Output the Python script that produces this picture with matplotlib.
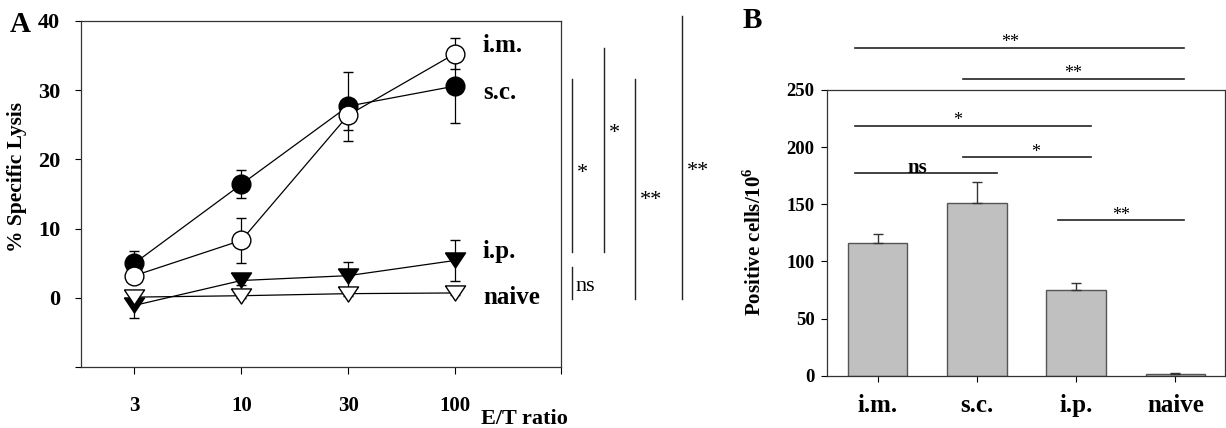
import numpy as np
import matplotlib
matplotlib.use('Agg')
import matplotlib.pyplot as plt

plt.rcParams['font.family'] = ['Liberation Serif', 'DejaVu Serif']
plt.rcParams['mathtext.fontset'] = 'custom'
plt.rcParams['mathtext.rm'] = 'Liberation Serif'
plt.rcParams['mathtext.bf'] = 'Liberation Serif:bold'

# panel A data: % specific lysis vs E/T ratio
et_ratio = ['3', '10', '30', '100']
im_lysis = [3.2, 8.3, 26.4, 35.3]
im_err = [0.4, 3.3, 2.2, 2.2]
sc_lysis = [5.0, 16.4, 27.7, 30.6]
sc_err = [1.7, 2.0, 5.0, 5.4]
ip_lysis = [-1.1, 2.5, 3.2, 5.4]
ip_err = [1.8, 0.6, 2.0, 3.0]
naive_lysis = [0.1, 0.3, 0.6, 0.7]
naive_err = [0.2, 0.3, 0.3, 0.3]

# panel B data: positive cells per 10^6
routes = ['i.m.', 's.c.', 'i.p.', 'naive']
cells = [116.5, 151.0, 75.0, 1.5]
cells_err = [7.8, 18.6, 6.5, 1.2]

# significance marks, panel A (vertical lines, y range in % lysis)
a_sig_x = [4.09, 4.09, 4.39, 4.68, 5.12]
a_sig_y0 = [6.6, -0.2, 6.6, -0.2, -0.2]
a_sig_y1 = [31.6, 4.4, 36.1, 31.6, 40.7]
a_sig_txt = ['*', 'ns', '*', '**', '**']
a_sig_tx = [4.19, 4.13, 4.49, 4.83, 5.27]
a_sig_ty = [19.1, 2.2, 24.9, 15.1, 19.4]

# significance marks, panel B (horizontal lines)
b_sig_x0 = [-0.23, 0.86, -0.23, 0.86, -0.23, 1.82]
b_sig_x1 = [3.09, 3.09, 2.15, 2.15, 1.20, 3.09]
b_sig_y = [287, 260, 218.5, 191, 177.5, 136]
b_sig_txt = ['**', '**', '*', '*', 'ns', '**']
b_sig_tx = [1.34, 1.97, 0.81, 1.59, 0.40, 2.45]

# wide, flat down-pointing triangle like the original figure
tri = [(-1, 0.75), (1, 0.75), (0, -0.75), (-1, 0.75)]

fig = plt.figure(figsize=(12.26, 4.28), dpi=100)

# ---------------- panel A ----------------
axA = fig.add_axes([81 / 1226, 1 - 367 / 428, 480 / 1226, 346 / 428])
x = np.arange(len(et_ratio))
kw = dict(color='black', lw=0.9, elinewidth=0.9, capsize=3.6, capthick=0.9,
          markeredgewidth=1.0, markeredgecolor='black')
axA.errorbar(x, sc_lysis, yerr=sc_err, fmt='-o', markersize=13.5,
             markerfacecolor='black', **kw)
axA.errorbar(x, im_lysis, yerr=im_err, fmt='-o', markersize=13.5,
             markerfacecolor='white', **kw)
axA.errorbar(x, ip_lysis, yerr=ip_err, fmt='-', marker=tri, markersize=14.5,
             markerfacecolor='black', **kw)
axA.errorbar(x, naive_lysis, yerr=naive_err, fmt='-', marker=tri,
             markersize=14.5, markerfacecolor='white', **kw)

axA.set_xlim(-0.5, 3.99)
axA.set_ylim(-10, 40)
axA.set_yticks([-10, 0, 10, 20, 30, 40])
axA.set_yticklabels(['', '0', '10', '20', '30', '40'])
axA.set_xticks(list(x) + [3.99])
axA.set_xticklabels(et_ratio + [''])
axA.tick_params(axis='x', direction='out', length=5, pad=16, labelsize=15)
axA.tick_params(axis='y', direction='out', length=4, pad=11, labelsize=16)
for lab in axA.get_xticklabels() + axA.get_yticklabels():
    lab.set_fontweight('bold')
for sp in axA.spines.values():
    sp.set_linewidth(0.9)
    sp.set_color('#333333')
axA.set_ylabel('% Specific Lysis', fontsize=15.5, fontweight='bold')
axA.yaxis.set_label_coords(-0.1125, 0.55)

axA.text(3.26, 35.5, 'i.m.', fontsize=18, fontweight='bold', va='baseline')
axA.text(3.26, 28.8, 's.c.', fontsize=18, fontweight='bold', va='baseline')
axA.text(3.26, 5.7, 'i.p.', fontsize=18, fontweight='bold', va='baseline')
axA.text(3.26, -0.9, 'naive', fontsize=18, fontweight='bold', va='baseline')

for xs, y0, y1, t, tx, ty in zip(a_sig_x, a_sig_y0, a_sig_y1, a_sig_txt,
                                 a_sig_tx, a_sig_ty):
    axA.plot([xs, xs], [y0, y1], color='#222222', lw=1.0, clip_on=False)
    if t == 'ns':
        axA.text(tx, 1.0, t, fontsize=16, va='baseline', ha='left',
                 clip_on=False)
    else:
        axA.text(tx, ty - 1.75, t, fontsize=16, va='baseline', ha='center',
                 clip_on=False)

axA.text(3.65, -17.5, 'E/T ratio', fontsize=16, fontweight='bold',
         ha='center', va='center')
fig.text(10 / 1226, 1 - 25 / 428, 'A', fontsize=21, fontweight='bold',
         va='center', ha='left')

# ---------------- panel B ----------------
axB = fig.add_axes([827 / 1226, 1 - 375.7 / 428, 398 / 1226, 285.7 / 428])
xb = np.arange(len(routes))
axB.bar(xb, cells, width=0.6, color='#c0c0c0', edgecolor='#555555', lw=1.0,
        yerr=[np.zeros(len(cells)), cells_err], capsize=3.6,
        error_kw=dict(ecolor='#333333', elinewidth=1.0, capthick=1.0))
axB.set_xlim(-0.51, 3.5)
axB.set_ylim(0, 250)
axB.set_yticks([0, 50, 100, 150, 200, 250])
axB.set_xticks(xb)
axB.set_xticklabels(routes)
axB.tick_params(axis='x', direction='out', length=4, pad=9, labelsize=18)
axB.tick_params(axis='y', direction='out', length=4, pad=5, labelsize=13.5)
for lab in axB.get_xticklabels() + axB.get_yticklabels():
    lab.set_fontweight('bold')
for sp in axB.spines.values():
    sp.set_linewidth(0.9)
    sp.set_color('#333333')
axB.set_ylabel(r'Positive cells/10$^{\mathbf{6}}$', fontsize=15,
               fontweight='bold')
axB.yaxis.set_label_coords(-0.155, 0.47)

for x0, x1, yv, t, tx in zip(b_sig_x0, b_sig_x1, b_sig_y, b_sig_txt, b_sig_tx):
    axB.plot([x0, x1], [yv, yv], color='#222222', lw=1.2, clip_on=False)
    if t == 'ns':
        axB.text(tx, yv, t, fontsize=15, fontweight='bold', ha='center',
                 va='baseline', clip_on=False)
    else:
        axB.text(tx, yv + 0.5, t, fontsize=13, ha='center', va='baseline',
                 clip_on=False)

fig.text(743 / 1226, 1 - 20 / 428, 'B', fontsize=21, fontweight='bold',
         va='center', ha='left')

fig.savefig('out.png', dpi=100)
